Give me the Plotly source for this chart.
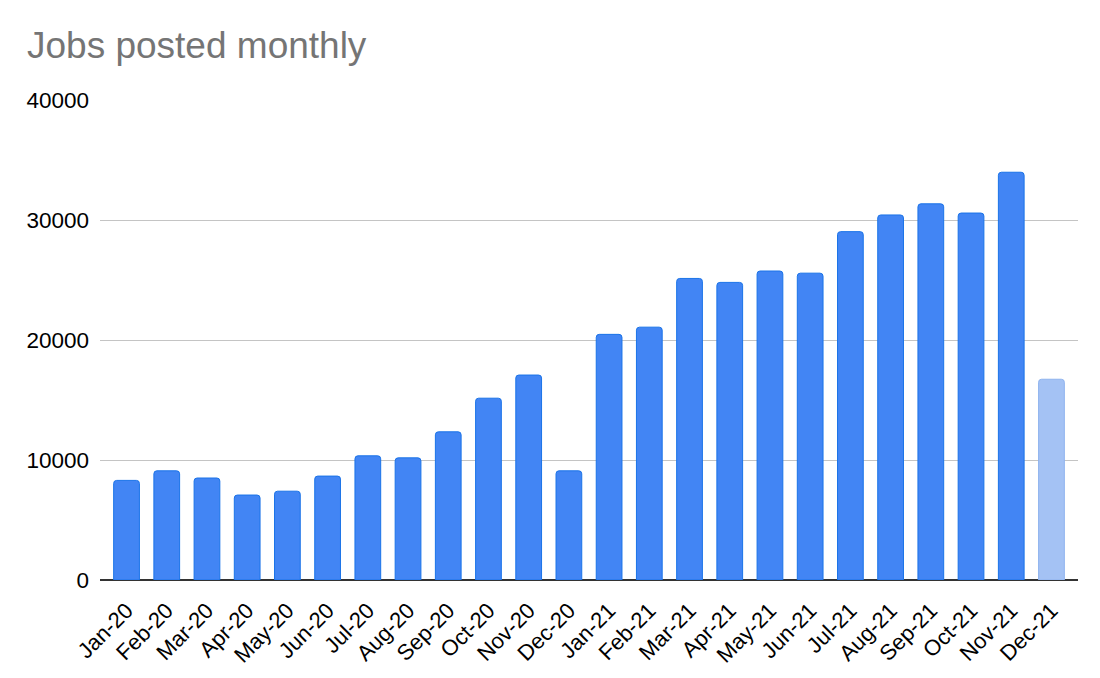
import plotly.graph_objects as go

months = ["Jan-20", "Feb-20", "Mar-20", "Apr-20", "May-20", "Jun-20", "Jul-20", "Aug-20",
          "Sep-20", "Oct-20", "Nov-20", "Dec-20", "Jan-21", "Feb-21", "Mar-21", "Apr-21",
          "May-21", "Jun-21", "Jul-21", "Aug-21", "Sep-21", "Oct-21", "Nov-21", "Dec-21"]
jobs = [8300, 9100, 8500, 7080, 7400, 8660, 10350, 10180,
        12350, 15150, 17080, 9100, 20470, 21070, 25130, 24800,
        25750, 25570, 29030, 30420, 31350, 30580, 33980, 16730]
y_ticks = [0, 10000, 20000, 30000, 40000]

full_color = "#4285F4"
full_line = "#1A73E8"
partial_color = "#A4C2F4"
partial_line = "#8FB3EE"
fill_colors = [full_color] * (len(months) - 1) + [partial_color]
line_colors = [full_line] * (len(months) - 1) + [partial_line]

fig = go.Figure(go.Bar(
    x=months, y=jobs,
    marker=dict(color=fill_colors, line=dict(color=line_colors, width=1), cornerradius=3),
    width=0.64,
))

W, H = 1092, 670  # page adds 8px body margin
font_family = "Arial, 'Liberation Sans', sans-serif"
fig.update_layout(
    width=W, height=H,
    margin=dict(l=92, r=22, t=92, b=98, autoexpand=False),
    paper_bgcolor="white", plot_bgcolor="white",
    font=dict(family=font_family, color="#000000", size=21),
    showlegend=False,
    title=dict(text="Jobs posted monthly", x=19/W, xanchor="left", xref="container",
               y=1 - 37/H, yanchor="middle", yref="container",
               font=dict(size=37, color="#757575", family=font_family)),
    xaxis=dict(type="category", tickangle=-45, showgrid=False, showline=False,
               ticks="outside", ticklen=8, tickcolor="rgba(0,0,0,0)", automargin=False,
               range=[-0.66, 23.66], tickfont=dict(size=22)),
    yaxis=dict(range=[0, 40000], tickvals=y_ticks, ticktext=[str(v) for v in y_ticks],
               showgrid=True, gridcolor="#C4C4C4", gridwidth=1, automargin=False,
               zeroline=True, zerolinecolor="#333333", zerolinewidth=2,
               showline=False, ticks="", ticklabelstandoff=10, tickfont=dict(size=22.5)),
    bargap=0.36,
)

fig.write_html("out.html")
